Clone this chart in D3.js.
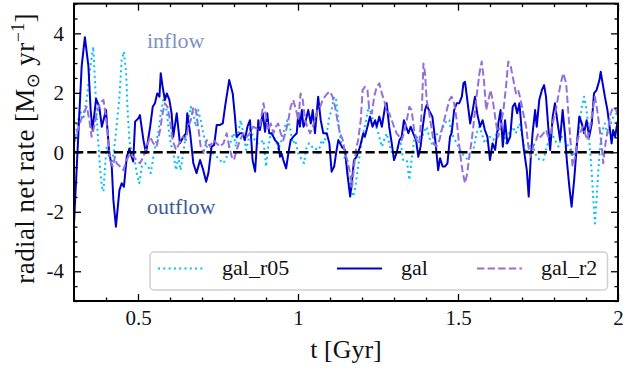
<!DOCTYPE html>
<html>
<head>
<meta charset="utf-8">
<script src="https://cdn.jsdelivr.net/npm/d3@7"></script>
<style>
  html, body { margin: 0; padding: 0; background: #fff; }
  svg { display: block; }
  svg text { font-family: "Liberation Serif", "DejaVu Serif", serif; fill: #111; }
</style>
</head>
<body>
<svg id="chart" width="623" height="376"></svg>
<script>
// Radial net gas rate through three shells (r05, fiducial, r2) versus time.
const galT = [0.300,0.324,0.334,0.345,0.352,0.358,0.369,0.379,0.387,0.392,0.400,0.410,0.418,0.423,0.431,0.442,0.449,0.456,0.465,0.473,0.480,0.485,0.491,0.501,0.506,0.517,0.525,0.538,0.546,0.553,0.560,0.567,0.571,0.577,0.584,0.590,0.598,0.605,0.610,0.621,0.631,0.642,0.650,0.654,0.663,0.673,0.683,0.694,0.704,0.713,0.720,0.730,0.738,0.746,0.756,0.765,0.772,0.785,0.796,0.803,0.808,0.819,0.827,0.834,0.842,0.850,0.858,0.866,0.876,0.881,0.890,0.897,0.904,0.910,0.918,0.928,0.938,0.944,0.949,0.954,0.963,0.970,0.977,0.985,0.996,1.001,1.006,1.012,1.017,1.022,1.032,1.040,1.046,1.053,1.063,1.071,1.079,1.090,1.098,1.105,1.113,1.119,1.126,1.137,1.147,1.154,1.163,1.168,1.175,1.183,1.194,1.204,1.209,1.217,1.225,1.233,1.241,1.246,1.254,1.262,1.272,1.277,1.285,1.293,1.300,1.308,1.317,1.324,1.331,1.338,1.345,1.352,1.360,1.369,1.376,1.383,1.390,1.397,1.402,1.410,1.420,1.430,1.438,1.444,1.452,1.459,1.467,1.475,1.480,1.488,1.496,1.504,1.512,1.517,1.522,1.529,1.538,1.546,1.553,1.560,1.569,1.577,1.584,1.592,1.600,1.608,1.616,1.621,1.626,1.633,1.640,1.647,1.654,1.663,1.671,1.678,1.685,1.692,1.699,1.706,1.715,1.721,1.727,1.733,1.741,1.746,1.754,1.762,1.769,1.775,1.782,1.788,1.796,1.803,1.810,1.819,1.827,1.834,1.840,1.848,1.855,1.863,1.871,1.879,1.887,1.894,1.902,1.910,1.918,1.925,1.933,1.942,1.946,1.952,1.959,1.967,1.975,1.980,1.985,1.991,1.996,2.000];
const galV = [-2.4,2.9,3.87,2.9,1.42,0.75,1.8,1.53,0.86,1.08,1.42,0.0,-0.48,-1.6,-2.5,-1.27,-1.04,-1.16,-0.15,0.13,-0.15,-0.31,1.03,1.14,1.25,0.41,-0.03,0.86,1.53,1.65,1.98,1.87,2.66,2.2,1.76,1.98,1.76,1.31,0.52,1.31,0.3,0.52,0.64,1.31,0.64,-0.37,-0.7,-0.26,-0.6,-0.99,-0.7,0.19,0.25,0.92,0.92,0.97,1.53,2.43,1.98,1.2,0.52,0.64,0.64,0.41,0.86,1.08,-0.26,-0.65,1.08,0.75,1.31,0.69,1.31,0.64,0.64,0.41,0.3,-0.15,-0.05,-0.26,-0.54,-0.03,0.41,0.52,0.64,1.31,0.86,1.42,0.86,0.97,1.42,0.97,1.42,0.64,1.87,1.08,0.64,0.64,0.3,-0.65,-0.48,-0.03,0.41,0.19,0.08,-0.7,-1.49,-1.04,-0.26,-0.15,0.19,0.64,0.52,0.86,1.2,0.86,1.08,0.86,1.2,0.86,1.53,1.65,0.86,0.3,-0.26,-0.03,0.41,0.52,1.08,0.86,0.64,0.86,0.64,0.41,-0.15,0.19,0.86,1.42,1.59,1.4,1.2,0.3,-0.6,-0.2,-0.48,-0.48,-0.37,0.52,0.64,1.42,1.65,1.65,1.87,2.32,2.37,1.76,0.97,1.42,1.87,1.31,0.86,1.08,0.75,0.52,-0.26,0.3,0.08,0.52,0.97,1.42,0.19,1.08,0.3,0.52,1.53,1.65,1.31,1.65,0.75,0.08,-0.6,-1.49,-0.26,0.64,1.42,0.86,1.76,2.09,2.26,1.87,0.86,0.08,1.2,1.65,1.08,0.41,1.42,0.64,-0.26,-1.16,-1.83,-0.93,0.19,1.2,0.97,0.64,1.08,0.52,0.97,1.98,2.09,2.43,2.71,2.32,1.87,1.42,0.75,0.3,0.75,0.52,0.86,1.08];

const r05T = [0.300,0.308,0.319,0.329,0.340,0.350,0.360,0.366,0.371,0.376,0.381,0.387,0.392,0.397,0.402,0.410,0.418,0.425,0.433,0.442,0.449,0.456,0.463,0.467,0.473,0.480,0.488,0.496,0.504,0.512,0.522,0.532,0.540,0.548,0.556,0.563,0.571,0.579,0.588,0.595,0.602,0.610,0.619,0.626,0.633,0.642,0.650,0.657,0.665,0.673,0.681,0.688,0.696,0.704,0.715,0.725,0.735,0.746,0.756,0.767,0.777,0.788,0.798,0.806,0.813,0.821,0.829,0.838,0.845,0.852,0.860,0.871,0.881,0.892,0.900,0.907,0.915,0.923,0.931,0.938,0.949,0.959,0.967,0.975,0.983,0.991,1.001,1.012,1.019,1.027,1.035,1.043,1.053,1.063,1.074,1.081,1.090,1.098,1.105,1.113,1.119,1.126,1.133,1.142,1.150,1.157,1.165,1.173,1.181,1.188,1.196,1.204,1.213,1.220,1.227,1.235,1.244,1.251,1.262,1.269,1.277,1.285,1.293,1.303,1.313,1.321,1.329,1.340,1.348,1.355,1.363,1.371,1.381,1.392,1.402,1.413,1.423,1.433,1.444,1.454,1.465,1.473,1.480,1.491,1.501,1.512,1.522,1.532,1.540,1.548,1.558,1.567,1.574,1.584,1.592,1.600,1.610,1.621,1.631,1.642,1.650,1.660,1.671,1.681,1.692,1.699,1.706,1.715,1.725,1.735,1.746,1.756,1.767,1.777,1.785,1.793,1.803,1.814,1.824,1.834,1.845,1.855,1.863,1.871,1.879,1.887,1.894,1.902,1.910,1.918,1.923,1.928,1.933,1.938,1.944,1.952,1.959,1.967,1.975,1.985,1.996,2.000];
const r05V = [0.2,0.8,1.4,1.1,1.8,2.8,3.55,2.3,1.2,0.3,-0.48,-1.16,-1.32,-0.48,0.19,-0.15,-0.37,0.08,0.86,1.87,3.1,3.38,2.66,1.53,0.41,0.0,-0.15,-0.7,-1.04,-0.48,-0.37,-0.48,-0.7,-0.15,0.3,0.64,1.31,1.76,1.53,0.86,0.3,0.0,-0.6,-0.15,-0.6,0.0,0.64,1.08,1.53,1.31,0.86,1.42,1.08,0.64,0.19,0.19,-0.03,-0.15,-0.26,-0.37,-0.15,0.3,0.64,0.19,0.64,1.08,0.64,0.08,0.41,0.86,0.5,0.3,0.3,0.41,-0.48,0.19,0.64,0.52,0.41,0.08,0.41,0.86,1.08,0.86,0.3,0.41,-0.03,-0.26,-0.37,0.19,0.3,0.19,0.19,-0.03,0.41,0.3,0.64,1.2,1.42,1.87,1.76,1.08,0.41,-0.03,-0.37,-0.82,-1.16,-1.49,-1.04,-0.48,0.19,0.64,1.08,1.53,1.31,1.08,0.86,0.64,0.19,0.41,0.64,0.3,-0.03,-0.15,0.19,0.3,-0.26,-0.26,-0.93,-0.26,0.41,0.52,0.3,0.64,0.86,0.41,0.2,0.6,0.64,0.86,1.08,1.08,0.64,0.41,0.19,-0.03,-0.15,-0.26,-0.03,0.08,0.64,0.86,0.64,0.3,0.41,0.52,0.41,0.64,0.86,0.64,0.3,0.64,0.86,0.64,0.97,0.64,0.19,-0.03,0.3,0.19,-0.15,-0.26,-0.26,0.19,0.41,0.64,0.41,0.19,0.52,0.41,0.19,-0.03,-0.15,0.3,0.86,1.53,1.87,1.42,0.41,-0.7,-1.6,-2.39,-1.6,-0.7,0.19,0.75,0.97,0.64,0.86,1.2,1.31,1.4];

const r2T = [0.300,0.313,0.329,0.340,0.348,0.355,0.363,0.371,0.381,0.392,0.400,0.407,0.413,0.421,0.428,0.433,0.444,0.454,0.465,0.475,0.485,0.496,0.506,0.517,0.527,0.538,0.548,0.558,0.569,0.577,0.584,0.592,0.600,0.608,0.619,0.629,0.640,0.650,0.657,0.665,0.673,0.681,0.688,0.696,0.704,0.715,0.725,0.735,0.746,0.756,0.767,0.777,0.785,0.793,0.800,0.808,0.819,0.829,0.840,0.850,0.860,0.871,0.881,0.892,0.900,0.907,0.915,0.923,0.931,0.938,0.946,0.954,0.963,0.970,0.977,0.985,0.994,1.001,1.008,1.015,1.022,1.029,1.038,1.046,1.053,1.061,1.069,1.077,1.084,1.092,1.100,1.108,1.116,1.123,1.131,1.140,1.147,1.154,1.163,1.169,1.175,1.181,1.188,1.196,1.202,1.209,1.217,1.223,1.231,1.238,1.246,1.254,1.262,1.269,1.277,1.285,1.293,1.300,1.308,1.317,1.324,1.331,1.340,1.348,1.355,1.363,1.371,1.379,1.387,1.392,1.397,1.402,1.410,1.418,1.425,1.433,1.442,1.454,1.465,1.473,1.480,1.488,1.496,1.501,1.508,1.515,1.522,1.529,1.535,1.543,1.550,1.558,1.567,1.574,1.581,1.588,1.595,1.602,1.610,1.619,1.626,1.633,1.642,1.650,1.657,1.665,1.673,1.681,1.688,1.696,1.704,1.713,1.720,1.727,1.735,1.744,1.751,1.758,1.767,1.775,1.782,1.790,1.798,1.806,1.813,1.821,1.829,1.838,1.845,1.852,1.858,1.866,1.873,1.881,1.890,1.897,1.904,1.913,1.921,1.928,1.935,1.942,1.949,1.954,1.961,1.970,1.977,1.985,1.994,2.000];
const r2V = [0.3,0.8,1.31,1.53,1.08,0.52,0.86,1.31,1.65,1.76,1.2,0.41,-0.26,-0.48,-0.15,-0.37,-0.48,-0.6,-0.26,-0.03,-0.15,-0.26,-0.37,-0.15,0.19,0.52,0.3,0.19,0.75,1.31,1.65,1.53,1.08,0.41,0.08,0.3,0.52,0.41,0.86,1.08,1.53,1.42,0.86,0.19,-0.03,0.41,0.19,0.41,0.3,0.19,0.3,0.64,0.19,-0.15,-0.26,0.08,0.41,0.64,0.52,0.64,0.86,0.8,0.86,1.65,1.2,0.75,0.97,0.64,0.86,0.97,0.64,0.41,0.75,1.08,1.53,1.76,1.42,1.08,1.98,1.76,1.08,0.86,0.64,0.86,1.08,1.42,1.53,1.76,1.87,1.98,2.04,1.87,1.53,1.08,0.64,0.41,-0.03,-0.26,-0.7,-1.16,-0.48,0.08,0.41,1.08,2.09,2.2,2.09,1.42,1.31,1.87,2.2,2.32,1.98,1.76,1.42,1.31,1.08,0.86,0.64,0.52,0.41,0.64,1.08,1.53,1.42,0.75,0.41,0.3,1.42,2.99,2.66,1.76,1.31,0.75,0.3,0.19,0.41,0.97,1.42,1.76,1.87,1.65,1.08,0.52,-0.15,-0.7,-1.04,-0.7,-0.15,0.41,1.08,1.87,2.66,3.05,2.43,1.42,1.76,2.09,1.65,0.97,0.52,0.86,1.42,2.2,3.05,2.88,2.43,1.98,2.09,1.76,1.31,0.86,0.19,-0.15,0.19,0.41,0.64,0.52,0.64,0.75,0.52,0.64,1.08,1.42,1.87,2.32,2.66,2.32,1.31,0.3,-0.48,-0.15,0.41,0.64,0.86,0.64,0.41,0.86,1.42,1.87,1.42,0.86,0.19,-0.37,0.3,0.86,1.31,1.53,1.42,1.25];

const seriesNames = ["gal_r05", "gal", "gal_r2"];
const xMajor = [0.5, 1, 1.5, 2];
const yMajor = [-4, -2, 0, 2, 4];

const SERIF = "'Liberation Serif', 'DejaVu Serif', serif";
const svg = d3.select("#chart");
const L = 74, R = 618, T = 3.6, B = 301;

const x = d3.scaleLinear().domain([0.3, 2.0]).range([L, R]);
const y = d3.scaleLinear().domain([-5, 5]).range([B, T]);

const xMinor = d3.range(3, 21).map(d => d / 10).filter(d => !xMajor.some(m => Math.abs(m - d) < 1e-9));
const yMinor = d3.range(-10, 11).map(d => d / 2).filter(d => !yMajor.includes(d));

const styles = [
  { name: seriesNames[0], t: r05T, v: r05V, color: "#00bfff", width: 2, dash: "2,3.3" },
  { name: seriesNames[1], t: galT, v: galV, color: "#0000cd", width: 2, dash: null },
  { name: seriesNames[2], t: r2T, v: r2V, color: "#9370db", width: 2, dash: "7.4,3.2" }
];

svg.append("defs").append("clipPath").attr("id", "plotClip")
  .append("rect").attr("x", L).attr("y", T).attr("width", R - L).attr("height", B - T);

const plot = svg.append("g").attr("clip-path", "url(#plotClip)");
const line = d3.line().x(d => x(d[0])).y(d => y(d[1]));

styles.forEach(s => {
  const pts = s.t.map((t, i) => [t, s.v[i]]);
  plot.append("path")
    .datum(pts)
    .attr("d", line)
    .attr("fill", "none")
    .attr("stroke", s.color)
    .attr("stroke-width", s.width)
    .attr("stroke-linejoin", "round")
    .attr("stroke-dasharray", s.dash);
});

// zero line
plot.append("line")
  .attr("x1", L).attr("x2", R)
  .attr("y1", y(0)).attr("y2", y(0))
  .attr("stroke", "#000").attr("stroke-width", 2.5)
  .attr("stroke-dasharray", "9.25,4");

// annotations
svg.append("text").attr("x", 147).attr("y", 48)
  .attr("font-family", SERIF).style("font-family", SERIF)
  .style("font-size", "22px").style("fill", "#7f92c2").text("inflow");
svg.append("text").attr("x", 147).attr("y", 214)
  .attr("font-family", SERIF).style("font-family", SERIF)
  .style("font-size", "22px").style("fill", "#3b5a9b").text("outflow");

// axes with inward ticks on all four sides
const fmt = d => String(d);
function styleAxis(g) {
  g.attr("font-family", SERIF);
  g.select(".domain").remove();
  g.selectAll(".tick line").attr("stroke", "#000").attr("stroke-width", 1.3);
  g.selectAll(".tick text").attr("font-family", SERIF).style("font-family", SERIF)
    .style("font-size", "21px").attr("fill", "#111");
}
svg.append("g").attr("transform", `translate(0,${B})`)
  .call(d3.axisBottom(x).tickValues(xMajor).tickFormat(fmt).tickSize(-7).tickPadding(9)).call(styleAxis);
svg.append("g").attr("transform", `translate(0,${B})`)
  .call(d3.axisBottom(x).tickValues(xMinor).tickFormat("").tickSize(-3.5)).call(styleAxis);
svg.append("g").attr("transform", `translate(0,${T})`)
  .call(d3.axisTop(x).tickValues(xMajor).tickFormat("").tickSize(-7)).call(styleAxis);
svg.append("g").attr("transform", `translate(0,${T})`)
  .call(d3.axisTop(x).tickValues(xMinor).tickFormat("").tickSize(-3.5)).call(styleAxis);
svg.append("g").attr("transform", `translate(${L},0)`)
  .call(d3.axisLeft(y).tickValues(yMajor).tickFormat(fmt).tickSize(-7).tickPadding(10)).call(styleAxis);
svg.append("g").attr("transform", `translate(${L},0)`)
  .call(d3.axisLeft(y).tickValues(yMinor).tickFormat("").tickSize(-3.5)).call(styleAxis);
svg.append("g").attr("transform", `translate(${R},0)`)
  .call(d3.axisRight(y).tickValues(yMajor).tickFormat("").tickSize(-7)).call(styleAxis);
svg.append("g").attr("transform", `translate(${R},0)`)
  .call(d3.axisRight(y).tickValues(yMinor).tickFormat("").tickSize(-3.5)).call(styleAxis);

// frame
svg.append("rect").attr("x", L).attr("y", T).attr("width", R - L).attr("height", B - T)
  .attr("fill", "none").attr("stroke", "#000").attr("stroke-width", 2);

// axis labels
svg.append("text").attr("x", (L + R) / 2).attr("y", 358)
  .attr("text-anchor", "middle").style("font-family", SERIF).style("font-size", "26px").text("t [Gyr]");

const yl = svg.append("text")
  .attr("transform", `translate(34,${(T + B) / 2 - 4}) rotate(-90)`)
  .attr("text-anchor", "middle").style("font-family", SERIF)
  .style("font-size", "27px").style("letter-spacing", "0.4px");
yl.append("tspan").text("radial net rate [M");
yl.append("tspan").attr("dy", 5).style("font-size", "18px").style("font-family", "'DejaVu Sans', sans-serif").text("\u2299");
yl.append("tspan").attr("dy", -5).text(" yr");
yl.append("tspan").attr("dy", -10).style("font-size", "18px").text("\u22121");
yl.append("tspan").attr("dy", 10).text("]");

// legend
const lg = svg.append("g");
lg.append("rect").attr("x", 150).attr("y", 252).attr("width", 457.5).attr("height", 38)
  .attr("rx", 4).attr("fill", "#fff").attr("fill-opacity", 0.8)
  .attr("stroke", "#d0d0d0").attr("stroke-width", 1.5);
const entryX = [158, 337, 477];
styles.forEach((s, i) => {
  lg.append("line").attr("x1", entryX[i]).attr("x2", entryX[i] + 45)
    .attr("y1", 268.5).attr("y2", 268.5)
    .attr("stroke", s.color).attr("stroke-width", s.width).attr("stroke-dasharray", s.dash);
  lg.append("text").attr("x", entryX[i] + 64).attr("y", 275)
    .style("font-family", SERIF).style("font-size", "22px").text(s.name);
});
</script>
</body>
</html>
